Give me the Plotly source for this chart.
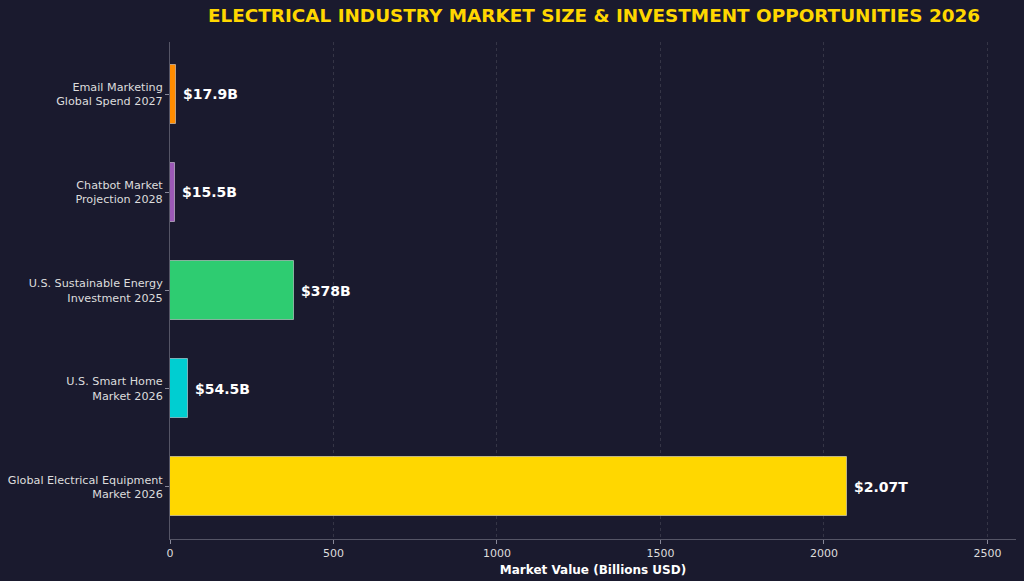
import plotly.graph_objects as go

categories = [
    "Global Electrical Equipment<br>Market 2026",
    "U.S. Smart Home<br>Market 2026",
    "U.S. Sustainable Energy<br>Investment 2025",
    "Chatbot Market<br>Projection 2028",
    "Email Marketing<br>Global Spend 2027",
]
values = [2070, 54.5, 378, 15.5, 17.9]
value_labels = ["$2.07T", "$54.5B", "$378B", "$15.5B", "$17.9B"]
colors = ["#FFD700", "#00CED1", "#2ECC71", "#9B59B6", "#FF8C00"]
x_ticks = [0, 500, 1000, 1500, 2000, 2500]

BG = "#1a1a2e"
FONT = "DejaVu Sans"

fig = go.Figure()
fig.add_trace(go.Bar(
    y=list(range(len(categories))),
    x=values,
    orientation="h",
    width=0.6,
    marker=dict(color=colors, line=dict(color="rgba(255,255,255,0.45)", width=1)),
    hoverinfo="x",
))

for i, (v, lab) in enumerate(zip(values, value_labels)):
    fig.add_annotation(
        x=v, y=i, text="<b>" + lab + "</b>", showarrow=False,
        xanchor="left", yanchor="middle", xshift=5,
        font=dict(family=FONT, size=14, color="white"),
    )

fig.update_layout(
    width=1024, height=581,
    paper_bgcolor=BG, plot_bgcolor=BG,
    margin=dict(l=170, r=8, t=42, b=42, autoexpand=False),
    showlegend=False,
    bargap=0,
    title=dict(
        text="<b>ELECTRICAL INDUSTRY MARKET SIZE & INVESTMENT OPPORTUNITIES 2026</b>",
        x=594 / 1024, xanchor="center", y=0.974, yanchor="middle",
        font=dict(family=FONT, size=18.4, color="#FFD700"),
    ),
    font=dict(family=FONT, color="#dddddd"),
)

fig.update_xaxes(
    range=[0, 2587.5],
    tickvals=x_ticks,
    ticktext=[str(t) for t in x_ticks],
    tickfont=dict(family=FONT, size=11, color="#dddddd"),
    showgrid=True, gridcolor="rgba(200,200,200,0.16)", griddash="3px,3px", gridwidth=1,
    zeroline=False,
    showline=True, linecolor="#555566", linewidth=1,
    ticks="outside", ticklen=4, tickcolor="#888899",
    layer="above traces",
    automargin=False,
    title=dict(text="<b>Market Value (Billions USD)</b>",
               font=dict(family=FONT, size=12, color="white"), standoff=6),
)
fig.update_yaxes(
    range=[-0.53, 4.53],
    tickvals=list(range(len(categories))),
    ticktext=categories,
    tickfont=dict(family=FONT, size=11.2, color="#dddddd"),
    showgrid=False, zeroline=False,
    showline=True, linecolor="#555566", linewidth=1,
    ticks="outside", ticklen=4, tickcolor="#888899",
    automargin=False,
)

fig.write_html("out.html")
